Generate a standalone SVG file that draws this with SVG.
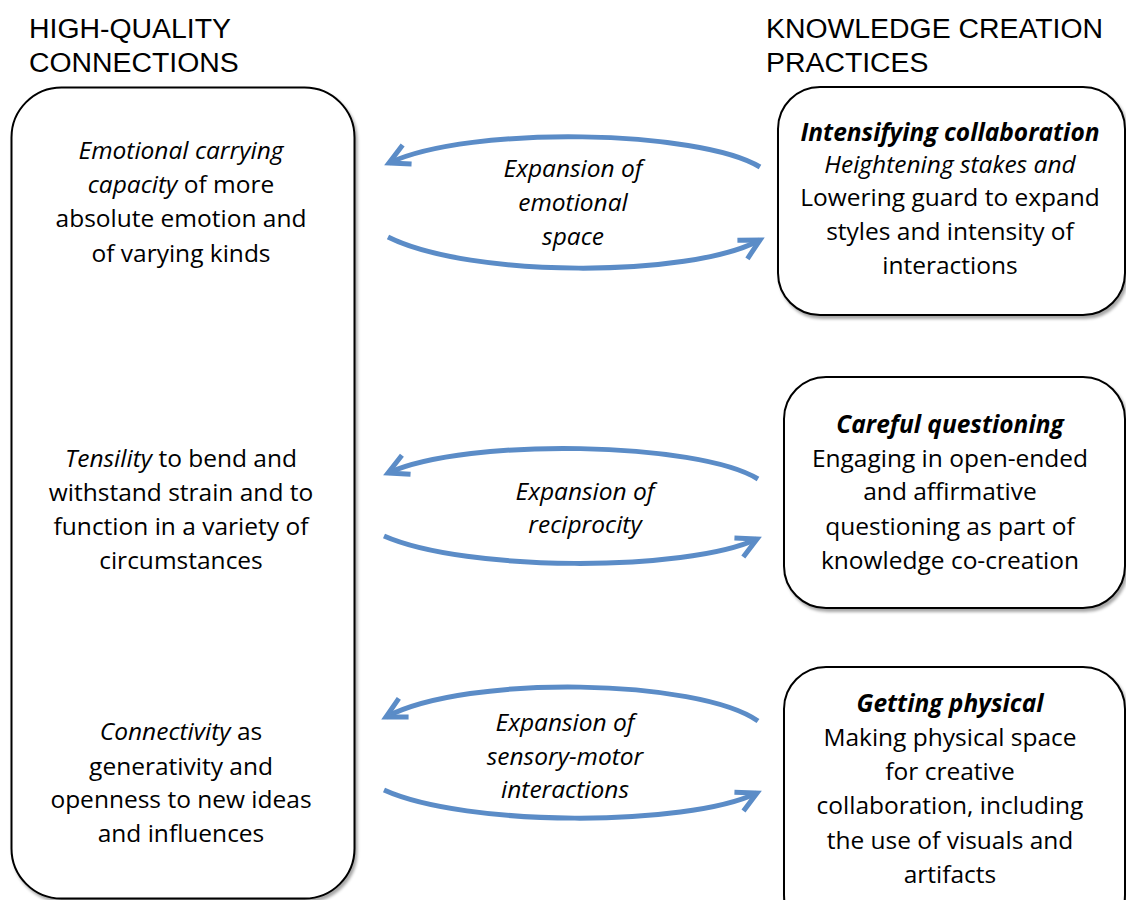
<svg xmlns="http://www.w3.org/2000/svg" width="1126" height="900" viewBox="0 0 1126 900">
  <style>
    .hdr { font-family: "Liberation Sans", Arial, sans-serif; font-size: 28.4px; fill: #000; }
    .txt { font-family: "Open Sans", "Noto Sans", sans-serif; font-size: 24.5px; fill: #000; text-anchor: middle; }
    .it { font-style: italic; }
    .bi { font-style: italic; font-weight: bold; }
    .box { fill: #fff; stroke: #000; stroke-width: 2; filter: url(#shadow); }
    .arc { fill: none; stroke: #5b8cc7; stroke-width: 5; marker-end: url(#chev); }
  </style>
  <defs>
    <filter id="shadow" x="-10%" y="-10%" width="120%" height="120%">
      <feDropShadow dx="2" dy="3" stdDeviation="1.8" flood-color="#000" flood-opacity="0.35"/>
    </filter>
    <marker id="chev" markerUnits="userSpaceOnUse" orient="auto" markerWidth="40" markerHeight="40" viewBox="-30 -20 40 40" refX="0" refY="0" overflow="visible">
      <path d="M-20,-10.5 L0,0 L-20,10.5" fill="none" stroke="#5b8cc7" stroke-width="5" stroke-linejoin="miter" stroke-miterlimit="6"/>
    </marker>
  </defs>

  <rect width="1126" height="900" fill="#fff"/>

  <!-- column headings -->
  <g id="heading-left">
    <text class="hdr" x="29" y="38">HIGH-QUALITY</text>
    <text class="hdr" x="29" y="72">CONNECTIONS</text>
  </g>
  <g id="heading-right">
    <text class="hdr" x="766" y="38">KNOWLEDGE CREATION</text>
    <text class="hdr" x="766" y="72">PRACTICES</text>
  </g>

  <!-- high-quality connections column -->
  <g id="hqc">
    <rect class="box" x="11.5" y="87.5" width="343" height="811" rx="50" ry="50"/>
    <text class="txt" x="181" y="159"><tspan class="it">Emotional carrying</tspan></text>
    <text class="txt" x="181" y="193"><tspan class="it">capacity</tspan> of more</text>
    <text class="txt" x="181" y="227">absolute emotion and</text>
    <text class="txt" x="181" y="262">of varying kinds</text>

    <text class="txt" x="181" y="467"><tspan class="it">Tensility</tspan> to bend and</text>
    <text class="txt" x="181" y="501">withstand strain and to</text>
    <text class="txt" x="181" y="535">function in a variety of</text>
    <text class="txt" x="181" y="569">circumstances</text>

    <text class="txt" x="181" y="740"><tspan class="it">Connectivity</tspan> as</text>
    <text class="txt" x="181" y="775">generativity and</text>
    <text class="txt" x="181" y="808">openness to new ideas</text>
    <text class="txt" x="181" y="842">and influences</text>
  </g>

  <!-- knowledge creation practices -->
  <g id="kcp-collaboration">
    <rect class="box" x="778" y="87" width="347" height="228" rx="42" ry="42"/>
    <text class="txt" x="950" y="141"><tspan class="bi">Intensifying collaboration</tspan></text>
    <text class="txt" x="950" y="173"><tspan class="it">Heightening stakes and</tspan></text>
    <text class="txt" x="950" y="206">Lowering guard to expand</text>
    <text class="txt" x="950" y="240">styles and intensity of</text>
    <text class="txt" x="950" y="274">interactions</text>
  </g>

  <g id="kcp-questioning">
    <rect class="box" x="784" y="377" width="341" height="231" rx="42" ry="42"/>
    <text class="txt" x="950" y="433"><tspan class="bi">Careful questioning</tspan></text>
    <text class="txt" x="950" y="467">Engaging in open-ended</text>
    <text class="txt" x="950" y="500">and affirmative</text>
    <text class="txt" x="950" y="535">questioning as part of</text>
    <text class="txt" x="950" y="569">knowledge co-creation</text>
  </g>

  <g id="kcp-physical">
    <rect class="box" x="784" y="667" width="341" height="270" rx="42" ry="42"/>
    <text class="txt" x="950" y="712"><tspan class="bi">Getting physical</tspan></text>
    <text class="txt" x="950" y="746">Making physical space</text>
    <text class="txt" x="950" y="780">for creative</text>
    <text class="txt" x="950" y="814">collaboration, including</text>
    <text class="txt" x="950" y="849">the use of visuals and</text>
    <text class="txt" x="950" y="883">artifacts</text>
  </g>

  <!-- two-way arcs between the columns -->
  <g id="connectors">
    <path class="arc" d="M760,167 C700,130 470,125 389,163"/>
    <path class="arc" d="M388,237 C470,278 690,278 760,240"/>

    <path class="arc" d="M758,479 C698,442 468,437 388,473"/>
    <path class="arc" d="M384,536 C466,572 686,572 757,539"/>

    <path class="arc" d="M758,721 C698,679 468,674 386,717"/>
    <path class="arc" d="M384,790 C466,827 686,827 757,793"/>
  </g>

  <!-- arc labels -->
  <g id="label-emotional">
    <text class="txt it" x="573" y="177">Expansion of</text>
    <text class="txt it" x="573" y="211">emotional</text>
    <text class="txt it" x="573" y="245">space</text>
  </g>
  <g id="label-reciprocity">
    <text class="txt it" x="585" y="500">Expansion of</text>
    <text class="txt it" x="585" y="533">reciprocity</text>
  </g>
  <g id="label-sensory">
    <text class="txt it" x="565" y="731">Expansion of</text>
    <text class="txt it" x="565" y="765">sensory-motor</text>
    <text class="txt it" x="565" y="798">interactions</text>
  </g>
</svg>
